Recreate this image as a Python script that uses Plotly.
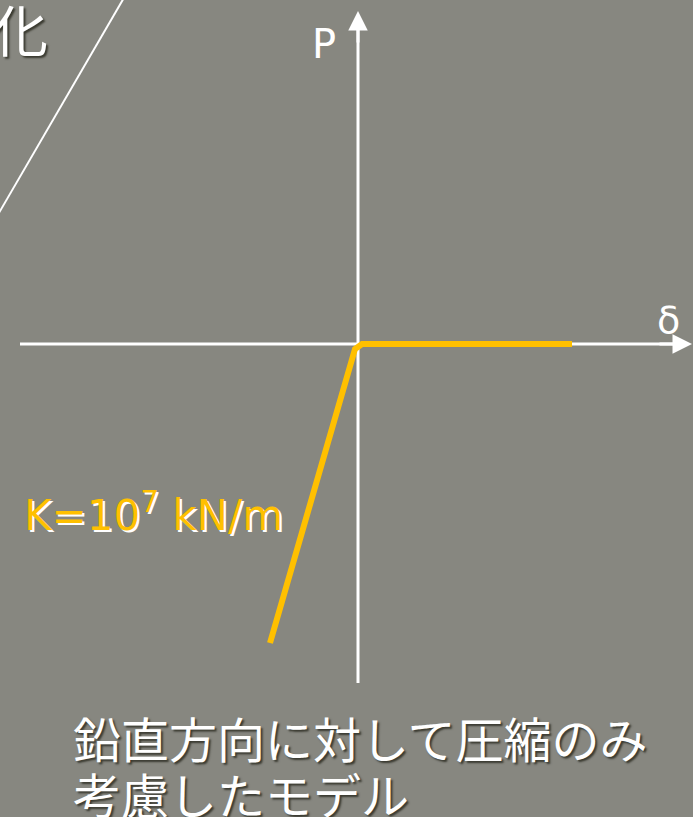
import plotly.graph_objects as go

# Model curve (delta, P) in chart units (origin at axis crossing)
delta = [-88, -3, 4, 214]
load = [-299, -5, 0, 0]

# axis extents
x_axis_x = [-338, 330]
x_axis_y = [0, 0]
y_axis_x = [0, 0]
y_axis_y = [-339, 328]

# decorative diagonal line from the slide background
diag_x = [-362, -233]
diag_y = [126, 348]

BG = "#878780"
ORANGE = "#FFC000"

fig = go.Figure()
fig.add_trace(go.Scatter(x=diag_x, y=diag_y, mode="lines",
                         line=dict(color="white", width=2), hoverinfo="skip"))
fig.add_trace(go.Scatter(x=x_axis_x, y=x_axis_y, mode="lines",
                         line=dict(color="white", width=3), hoverinfo="skip"))
fig.add_trace(go.Scatter(x=y_axis_x, y=y_axis_y, mode="lines",
                         line=dict(color="white", width=3), hoverinfo="skip"))
fig.add_trace(go.Scatter(x=delta, y=load, mode="lines",
                         line=dict(color=ORANGE, width=6), hoverinfo="skip"))

# arrowheads at the axis ends
fig.add_annotation(x=334, y=0, ax=300, ay=0, xref="x", yref="y", axref="x", ayref="y",
                   showarrow=True, arrowhead=2, arrowsize=1.3, arrowwidth=3,
                   arrowcolor="white", text="")
fig.add_annotation(x=0, y=333, ax=0, ay=300, xref="x", yref="y", axref="x", ayref="y",
                   showarrow=True, arrowhead=2, arrowsize=1.3, arrowwidth=3,
                   arrowcolor="white", text="")

dark_shadow = "2px 2px 2px #3a3a30"
fig.add_annotation(x=-338, y=317, text="化", showarrow=False, xanchor="center", yanchor="middle",
                   font=dict(family="Noto Sans CJK JP", size=56, color="white", shadow=dark_shadow))
fig.add_annotation(x=-34, y=300, text="P", showarrow=False, xanchor="center", yanchor="middle",
                   font=dict(family="DejaVu Sans", size=40, color="white"))
fig.add_annotation(x=310, y=24, text="δ", showarrow=False, xanchor="center", yanchor="middle",
                   font=dict(family="DejaVu Sans", size=38, color="white"))
fig.add_annotation(x=-336, y=-168, text="K=10<sup>7</sup> kN/m", showarrow=False,
                   xanchor="left", yanchor="middle",
                   font=dict(family="DejaVu Sans", size=42, color=ORANGE, shadow="2px 2px 0px white"))
fig.add_annotation(x=-287, y=-393, text="鉛直方向に対して圧縮のみ", showarrow=False,
                   xanchor="left", yanchor="middle",
                   font=dict(family="Noto Sans CJK JP", size=48, color="white", shadow=dark_shadow))
fig.add_annotation(x=-287, y=-449, text="考慮したモデル", showarrow=False,
                   xanchor="left", yanchor="middle",
                   font=dict(family="Noto Sans CJK JP", size=48, color="white", shadow=dark_shadow))

fig.update_layout(
    width=693, height=817, margin=dict(l=0, r=0, t=0, b=0),
    paper_bgcolor=BG, plot_bgcolor=BG, showlegend=False,
    xaxis=dict(range=[-358, 335], visible=False, fixedrange=True),
    yaxis=dict(range=[-473, 344], visible=False, fixedrange=True),
)
fig.write_html("out.html", config={"displayModeBar": False},
               post_script="document.body.style.margin='0';document.body.style.overflow='hidden';")
